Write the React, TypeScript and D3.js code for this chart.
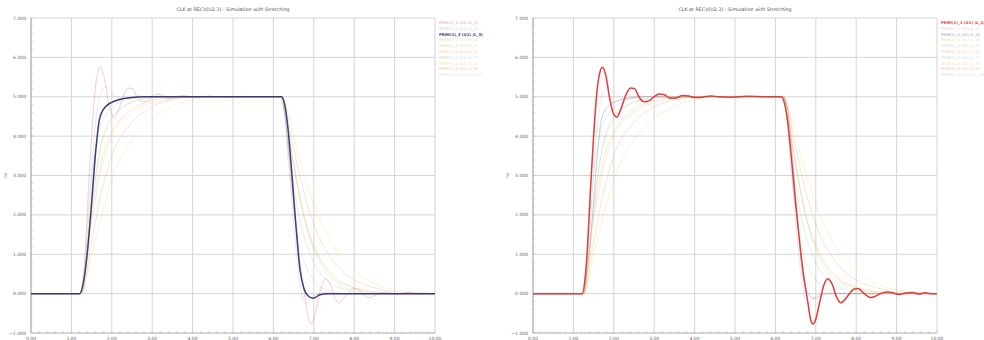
import * as d3 from "d3";

const WIDTH = 984;
const HEIGHT = 340;
const MARGIN = { top: 18, bottom: 7, left: 31 };
const PLOT_W = 404;

// time (ns) and voltage (V)
const X_TICKS = [0, 1, 2, 3, 4, 5, 6, 7, 8, 9, 10];
const Y_TICKS = [-1, 0, 1, 2, 3, 4, 5, 6, 7];

const TITLES = [
  "CLK at RECV(U2.3) - Simulation with Stretching",
  "CLK at RECV(U2.3) - Simulation with Stretching",
];

const traceNames = [
  "PRIM(1)_1 (U1) (L_1)",
  "PRIM(1)_2 (U1) (L_2)",
  "PRIM(1)_3 (U1) (L_3)",
  "PRIM(1)_4 (U1) (L_4)",
  "PRIM(1)_5 (U1) (L_5)",
  "PRIM(1)_6 (U1) (L_6)",
  "PRIM(1)_7 (U1) (L_7)",
  "PRIM(1)_8 (U1) (L_8)",
  "PRIM(1)_9 (U1) (L_9)",
  "PRIM(1)_10 (U1) (L_10)",
];

const traceColors = [
  "#e23b3b", "#c89ad0", "#3d3a7c", "#e8c35c", "#9ccc8a",
  "#f0a858", "#8cc49a", "#e6d84a", "#ec8a7a", "#b4d8a4",
];

// ringing trace (highlighted on the right)
const trace0: [number, number][] = [
  [0, 0], [1.22, 0], [1.28, 0.3], [1.35, 1.2], [1.42, 2.6], [1.5, 4.0], [1.58, 5.1],
  [1.65, 5.6], [1.72, 5.75], [1.8, 5.55], [1.9, 4.95], [2.0, 4.55], [2.08, 4.48],
  [2.18, 4.7], [2.3, 5.05], [2.42, 5.22], [2.52, 5.2], [2.62, 5.0], [2.75, 4.87],
  [2.88, 4.9], [3.0, 5.0], [3.12, 5.07], [3.25, 5.05], [3.4, 4.96], [3.55, 4.97],
  [3.7, 5.03], [3.85, 5.02], [4.0, 4.98], [4.2, 4.99], [4.4, 5.02], [4.6, 5.0],
  [4.9, 4.99], [5.3, 5.01], [5.8, 5.0], [6.15, 5.0], [6.22, 4.85], [6.3, 4.4],
  [6.4, 3.4], [6.5, 2.3], [6.6, 1.3], [6.7, 0.45], [6.8, -0.2], [6.87, -0.65],
  [6.93, -0.77], [7.0, -0.65], [7.1, -0.2], [7.2, 0.22], [7.3, 0.38], [7.4, 0.25],
  [7.52, -0.1], [7.62, -0.23], [7.72, -0.15], [7.85, 0.02], [7.95, 0.12], [8.05, 0.13],
  [8.2, 0.0], [8.35, -0.1], [8.45, -0.08], [8.6, 0.0], [8.75, 0.04], [8.9, 0.02],
  [9.05, -0.02], [9.2, 0.01], [9.4, 0.03], [9.55, -0.01], [9.7, 0.02], [9.85, 0.0], [10, 0.0],
];

const trace1: [number, number][] = [
  [0, 0], [1.25, 0], [1.4, 1.5], [1.55, 3.8], [1.7, 5.0], [1.85, 5.25], [2.05, 5.05],
  [2.3, 4.95], [2.6, 5.02], [3.0, 5.0], [6.2, 5.0], [6.35, 3.8], [6.5, 1.8], [6.65, 0.3],
  [6.8, -0.25], [7.0, -0.05], [7.3, 0.03], [7.6, 0], [10, 0],
];

// clean trace (highlighted on the left)
const trace2: [number, number][] = [
  [0, 0], [1.2, 0], [1.3, 0.3], [1.39, 1.0], [1.5, 2.3], [1.6, 3.6], [1.7, 4.45],
  [1.85, 4.75], [2.1, 4.9], [2.5, 4.98], [2.8, 5.0], [6.2, 5.0], [6.28, 4.8],
  [6.36, 4.2], [6.46, 3.0], [6.56, 1.7], [6.66, 0.6], [6.75, 0.15], [6.85, -0.05],
  [6.98, -0.12], [7.15, -0.03], [7.35, 0], [10, 0],
];

const trace3: [number, number][] = [
  [0, 0], [1.25, 0], [1.5, 1.8], [1.75, 3.2], [2.0, 4.0], [2.5, 4.6], [3.0, 4.85],
  [3.5, 4.95], [4.0, 5.0], [6.2, 5.0], [6.5, 3.3], [6.8, 1.8], [7.1, 1.0], [7.5, 0.45],
  [8.0, 0.15], [8.5, 0.05], [9.0, 0], [10, 0],
];

const trace4: [number, number][] = [
  [0, 0], [1.25, 0], [1.45, 2.5], [1.65, 4.0], [1.9, 4.6], [2.3, 4.9], [2.8, 5.0],
  [6.2, 5.0], [6.4, 3.0], [6.6, 1.5], [6.9, 0.5], [7.3, 0.1], [7.8, 0], [10, 0],
];

const trace5: [number, number][] = [
  [0, 0], [1.25, 0], [1.45, 1.6], [1.7, 3.2], [2.0, 4.1], [2.4, 4.6], [2.9, 4.88],
  [3.4, 4.97], [3.8, 5.0], [6.2, 5.0], [6.45, 3.6], [6.7, 2.2], [7.0, 1.2], [7.4, 0.5],
  [7.9, 0.18], [8.4, 0.05], [9.0, 0], [10, 0],
];

const trace6: [number, number][] = [
  [0, 0], [1.25, 0], [1.48, 2.0], [1.7, 3.6], [1.95, 4.35], [2.3, 4.75], [2.8, 4.95],
  [3.3, 5.0], [6.2, 5.0], [6.42, 3.3], [6.65, 1.9], [6.95, 0.9], [7.3, 0.35], [7.8, 0.1],
  [8.3, 0], [10, 0],
];

const trace7: [number, number][] = [
  [0, 0], [1.25, 0], [1.5, 1.0], [1.75, 2.0], [2.0, 2.9], [2.5, 3.9], [3.0, 4.45],
  [3.5, 4.75], [4.0, 4.92], [4.5, 5.0], [6.2, 5.0], [6.5, 4.0], [6.8, 2.9],
  [7.1, 2.0], [7.5, 1.2], [8.0, 0.6], [8.5, 0.25], [9.0, 0.1], [9.5, 0.03], [10, 0],
];

const trace8: [number, number][] = [
  [0, 0], [1.25, 0], [1.5, 1.3], [1.75, 2.6], [2.0, 3.5], [2.5, 4.35], [3.0, 4.75],
  [3.5, 4.92], [4.0, 5.0], [6.2, 5.0], [6.5, 3.7], [6.8, 2.4], [7.1, 1.5],
  [7.5, 0.8], [8.0, 0.35], [8.5, 0.15], [9.0, 0.05], [10, 0],
];

const trace9: [number, number][] = [
  [0, 0], [1.25, 0], [1.42, 1.4], [1.6, 3.0], [1.85, 4.2], [2.2, 4.7], [2.7, 4.92],
  [3.2, 5.0], [6.2, 5.0], [6.4, 3.9], [6.62, 2.6], [6.9, 1.4], [7.25, 0.6], [7.7, 0.2],
  [8.2, 0.05], [8.8, 0], [10, 0],
];

const traces = [trace0, trace1, trace2, trace3, trace4, trace5, trace6, trace7, trace8, trace9];

const PANEL_OFFSETS = [0, 502];
const HIGHLIGHT = [2, 0];

function Panel({ offset, highlight, title }: { offset: number; highlight: number; title: string }) {
  const plotW = PLOT_W;
  const plotH = HEIGHT - MARGIN.top - MARGIN.bottom;
  const left = offset + MARGIN.left;

  const xScale = d3.scaleLinear().domain([0, 10]).range([0, plotW]);
  const yScale = d3.scaleLinear().domain([-1, 7]).range([plotH, 0]);

  const line = d3
    .line<[number, number]>()
    .x((d) => xScale(d[0]))
    .y((d) => yScale(d[1]))
    .curve(d3.curveMonotoneX);

  const minorY = d3.range(-1, 7.001, 0.2);
  const minorX = d3.range(0, 10.001, 0.2);

  const grid = (
    <g>
      {X_TICKS.map((t, i) => (
        <line key={"gx" + i} x1={xScale(t)} x2={xScale(t)} y1={0} y2={plotH} stroke="#d4d4d4" strokeWidth={1} />
      ))}
      {Y_TICKS.map((t, i) => (
        <line key={"gy" + i} x1={0} x2={plotW} y1={yScale(t)} y2={yScale(t)} stroke="#d4d4d4" strokeWidth={1} />
      ))}
      {minorY.map((t, i) => (
        <line key={"my" + i} x1={0} x2={2} y1={yScale(t)} y2={yScale(t)} stroke="#b8b8b8" strokeWidth={0.6} />
      ))}
      {minorX.map((t, i) => (
        <line key={"mx" + i} x1={xScale(t)} x2={xScale(t)} y1={plotH} y2={plotH - 2} stroke="#b8b8b8" strokeWidth={0.6} />
      ))}
      <line x1={0} x2={0} y1={0} y2={plotH} stroke="#a8a8a8" />
      <line x1={0} x2={plotW} y1={plotH} y2={plotH} stroke="#bdbdbd" />
    </g>
  );

  const yLabels = Y_TICKS.map((t, i) => (
    <text key={i} x={-5} y={yScale(t) + 1.5} textAnchor="end" fontSize={4.5} fill="#666">
      {d3.format(".3f")(t)}
    </text>
  ));

  const xLabels = X_TICKS.map((t, i) => (
    <text key={i} x={xScale(t)} y={plotH + 6.5} textAnchor="middle" fontSize={4.5} fill="#666">
      {d3.format(".2f")(t)}
    </text>
  ));

  const faint = traces.map((tr, i) =>
    i === highlight ? null : (
      <path key={i} d={line(tr) ?? ""} fill="none" stroke={traceColors[i]} strokeWidth={1} opacity={0.26} />
    )
  );

  const legend = traceNames.map((name, i) => (
    <text
      key={i}
      x={plotW + 4}
      y={6 + i * 5.8}
      fontSize={3.8}
      fill={traceColors[i]}
      fontWeight={i === highlight ? "bold" : "normal"}
      opacity={i === highlight ? 1 : 0.55}
    >
      {name}
    </text>
  ));

  return (
    <g transform={`translate(${left},${MARGIN.top})`}>
      <text x={plotW / 2} y={-7} textAnchor="middle" fontSize={4.8} fill="#555">
        {title}
      </text>
      {grid}
      {faint}
      <path d={line(traces[highlight]) ?? ""} fill="none" stroke={traceColors[highlight]} strokeWidth={1.5} />
      {yLabels}
      {xLabels}
      <text x={-24} y={plotH / 2} fontSize={4} fill="#777" transform={`rotate(-90,${-24},${plotH / 2})`} textAnchor="middle">
        (V)
      </text>
      {legend}
    </g>
  );
}

export default function App() {
  return (
    <div style={{ position: "absolute", left: 0, top: 0 }}>
      <svg width={WIDTH} height={HEIGHT} style={{ display: "block", background: "#fff", fontFamily: "DejaVu Sans, sans-serif" }}>
        {PANEL_OFFSETS.map((off, i) => (
          <Panel key={i} offset={off} highlight={HIGHLIGHT[i]} title={TITLES[i]} />
        ))}
      </svg>
    </div>
  );
}
